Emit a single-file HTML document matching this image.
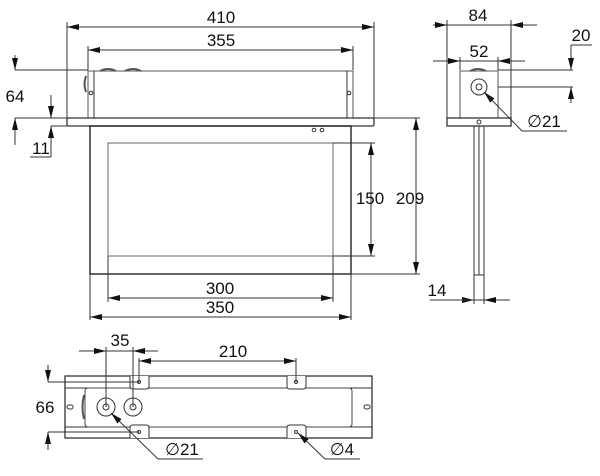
<!DOCTYPE html>
<html><head><style>body{margin:0;background:#fff}svg{display:block}text{font-family:"Liberation Sans",sans-serif;font-size:17px;fill:#111;text-anchor:middle}</style></head>
<body>
<svg width="600" height="476" viewBox="0 0 600 476" xmlns="http://www.w3.org/2000/svg">
<defs>
<marker id="a" viewBox="0 0 12 6" refX="12" refY="3" markerWidth="12" markerHeight="6" orient="auto-start-reverse" markerUnits="userSpaceOnUse"><path d="M0,0L12,3L0,6z" fill="#111"/></marker>
</defs>
<g fill="none" stroke="#333" stroke-width="1">
<line x1="67" y1="22" x2="67" y2="118"/><line x1="374" y1="22" x2="374" y2="118"/>
<line x1="67" y1="27" x2="374" y2="27" marker-start="url(#a)" marker-end="url(#a)"/>
<line x1="88" y1="46" x2="88" y2="70"/><line x1="353" y1="46" x2="353" y2="70"/>
<line x1="88" y1="50" x2="353" y2="50" marker-start="url(#a)" marker-end="url(#a)"/>
<rect x="88" y="71" width="265" height="47" stroke="#555"/>
<line x1="94" y1="71" x2="94" y2="118"/><line x1="347" y1="71" x2="347" y2="118"/>
<path d="M100,71q8,-4 16,0M125,71q8,-4 16,0" stroke="#555" stroke-width="2"/>
<path d="M86,76q-3,8 0,16" stroke="#555" stroke-width="2"/>
<circle cx="91" cy="93" r="1.8"/><circle cx="349" cy="93" r="1.8"/>
<rect x="67" y="118" width="307" height="8" rx="1.5" stroke="#333" stroke-width="1.3"/>
<rect x="90" y="126" width="261" height="148" stroke="#222" stroke-width="1.4"/>
<rect x="108" y="143" width="225" height="113" stroke="#666"/>
<circle cx="314" cy="130" r="1.8"/><circle cx="322" cy="130" r="1.8"/>
<line x1="333" y1="143" x2="375" y2="143"/><line x1="333" y1="256" x2="375" y2="256"/>
<line x1="371" y1="143" x2="371" y2="256" marker-start="url(#a)" marker-end="url(#a)"/>
<line x1="374" y1="118" x2="420" y2="118"/><line x1="351" y1="274" x2="420" y2="274"/>
<line x1="416" y1="118" x2="416" y2="274" marker-start="url(#a)" marker-end="url(#a)"/>
<line x1="108" y1="256" x2="108" y2="302"/><line x1="333" y1="256" x2="333" y2="302"/>
<line x1="108" y1="298" x2="333" y2="298" marker-start="url(#a)" marker-end="url(#a)"/>
<line x1="90" y1="274" x2="90" y2="320"/><line x1="351" y1="274" x2="351" y2="320"/>
<line x1="90" y1="317" x2="351" y2="317" marker-start="url(#a)" marker-end="url(#a)"/>
<line x1="15" y1="70" x2="88" y2="70"/>
<line x1="15" y1="55" x2="15" y2="70" marker-end="url(#a)"/>
<line x1="15" y1="118" x2="67" y2="118"/>
<line x1="15" y1="145" x2="15" y2="118" marker-end="url(#a)"/>
<line x1="51" y1="95" x2="51" y2="118" marker-end="url(#a)"/>
<line x1="51" y1="126" x2="67" y2="126"/>
<line x1="51" y1="157" x2="51" y2="126" marker-end="url(#a)"/>
<line x1="30" y1="157" x2="51" y2="157"/>
<line x1="447" y1="20" x2="447" y2="118"/><line x1="511" y1="20" x2="511" y2="118"/>
<line x1="433" y1="25" x2="537" y2="25"/>
<line x1="433" y1="25" x2="447" y2="25" marker-end="url(#a)"/><line x1="537" y1="25" x2="511" y2="25" marker-end="url(#a)"/>
<line x1="460" y1="57" x2="460" y2="70"/><line x1="498" y1="57" x2="498" y2="70"/>
<line x1="433" y1="61" x2="525" y2="61"/>
<line x1="433" y1="61" x2="460" y2="61" marker-end="url(#a)"/><line x1="525" y1="61" x2="498" y2="61" marker-end="url(#a)"/>
<rect x="460" y="71" width="38" height="47" stroke="#555"/>
<path d="M470,71q8,-4 16,0" stroke="#555" stroke-width="2"/>
<circle cx="479" cy="87" r="8"/><circle cx="479" cy="87" r="3"/>
<rect x="447" y="118" width="64" height="8" stroke="#333" stroke-width="1.3"/>
<circle cx="479" cy="122" r="2"/>
<rect x="474" y="126" width="10" height="174"/><line x1="479" y1="126" x2="479" y2="275"/>
<line x1="474" y1="275" x2="484" y2="275"/>
<line x1="474" y1="300" x2="474" y2="304"/><line x1="484" y1="300" x2="484" y2="304"/>
<line x1="460" y1="300" x2="474" y2="300" marker-end="url(#a)"/>
<line x1="510" y1="300" x2="484" y2="300" marker-end="url(#a)"/>
<line x1="430" y1="300" x2="474" y2="300"/>
<line x1="522" y1="131" x2="484" y2="92" marker-end="url(#a)"/>
<line x1="522" y1="131" x2="567" y2="131"/>
<line x1="498" y1="70" x2="573" y2="70"/><line x1="498" y1="87" x2="573" y2="87"/>
<line x1="571" y1="45" x2="571" y2="70" marker-end="url(#a)"/>
<line x1="571" y1="103" x2="571" y2="87" marker-end="url(#a)"/>
<line x1="571" y1="45" x2="592" y2="45"/>
<rect x="65" y="376" width="307" height="62" stroke="#333" stroke-width="1.3"/>
<line x1="65" y1="388" x2="372" y2="388"/><line x1="65" y1="427" x2="372" y2="427"/>
<rect x="85" y="388" width="267" height="39" rx="3" stroke="#444"/>
<path d="M84,395q-3,12 0,24" stroke="#555" stroke-width="2"/>
<circle cx="106" cy="407" r="9"/><circle cx="106" cy="407" r="3"/>
<circle cx="133" cy="407" r="9"/><circle cx="133" cy="407" r="3"/>
<path d="M130,376v10q0,3 3,3h13q3,0 3,-3v-10M287,376v10q0,3 3,3h13q3,0 3,-3v-10M130,438v-10q0,-3 3,-3h13q3,0 3,3v10M287,438v-10q0,-3 3,-3h13q3,0 3,3v10" fill="#fff"/>
<circle cx="139" cy="382" r="1.5"/><circle cx="296" cy="382" r="1.5"/>
<circle cx="139" cy="432" r="1.5"/><circle cx="296" cy="432" r="1.5"/>
<rect x="67" y="405" width="6" height="4" rx="2"/><rect x="364" y="405" width="6" height="4" rx="2"/>
<line x1="106" y1="347" x2="106" y2="407"/><line x1="133" y1="347" x2="133" y2="407"/>
<line x1="79" y1="351" x2="158" y2="351"/>
<line x1="79" y1="351" x2="106" y2="351" marker-end="url(#a)"/><line x1="158" y1="351" x2="133" y2="351" marker-end="url(#a)"/>
<line x1="139" y1="358" x2="139" y2="382"/><line x1="296" y1="358" x2="296" y2="382"/>
<line x1="139" y1="361" x2="296" y2="361" marker-start="url(#a)" marker-end="url(#a)"/>
<line x1="48" y1="382" x2="139" y2="382"/><line x1="48" y1="432" x2="139" y2="432"/>
<line x1="48" y1="365" x2="48" y2="382" marker-end="url(#a)"/>
<line x1="48" y1="450" x2="48" y2="432" marker-end="url(#a)"/>
<line x1="158" y1="459" x2="111" y2="413" marker-end="url(#a)"/>
<line x1="158" y1="459" x2="203" y2="459"/>
<line x1="325" y1="459" x2="298" y2="433" marker-end="url(#a)"/>
<line x1="325" y1="459" x2="360" y2="459"/>
</g>
<text x="221" y="23">410</text>
<text x="221" y="46">355</text>
<text x="15" y="102">64</text>
<text x="41" y="154">11</text>
<text x="370" y="204">150</text>
<text x="410" y="204">209</text>
<text x="220" y="294">300</text>
<text x="220" y="313">350</text>
<text x="478" y="21">84</text>
<text x="479" y="57">52</text>
<text x="581" y="41">20</text>
<text x="544" y="127">∅21</text>
<text x="437" y="296">14</text>
<text x="120" y="346">35</text>
<text x="233" y="357">210</text>
<text x="45" y="413">66</text>
<text x="182" y="455">∅21</text>
<text x="342" y="455">∅4</text>
</svg>
</body></html>
